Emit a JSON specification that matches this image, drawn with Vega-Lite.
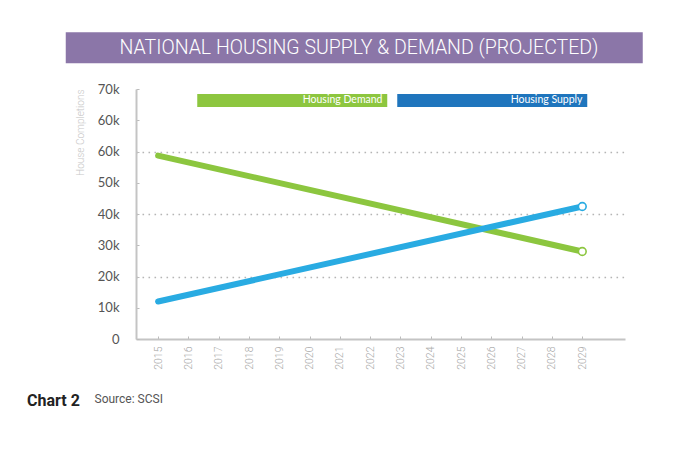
{
  "$schema": "https://vega.github.io/schema/vega-lite/v6.json",
  "background": "white",
  "padding": {"left": 27, "top": 38, "right": 5, "bottom": 5},
  "width": 489,
  "height": 250,
  "title": {
    "text": "Chart 2",
    "orient": "bottom",
    "anchor": "start",
    "frame": "group",
    "dx": -109,
    "dy": -11,
    "offset": 0,
    "font": "Roboto",
    "fontSize": 16,
    "fontWeight": "bold",
    "color": "#222222"
  },
  "layer": [
    {
      "data": {"values": [{"heading": "NATIONAL HOUSING SUPPLY & DEMAND (PROJECTED)"}]},
      "mark": {"type": "point", "filled": true, "opacity": 0, "color": "#8b76a8"},
      "encoding": {
        "shape": {
          "field": "heading",
          "type": "nominal",
          "scale": {"range": ["M0,-3.1H115.4V3.1H0Z"]},
          "legend": {
            "title": null,
            "orient": "none",
            "legendX": -80,
            "legendY": -51,
            "padding": 0,
            "symbolSize": 100,
            "symbolStrokeWidth": 0,
            "symbolFillColor": "#8b76a8",
            "symbolOpacity": 1,
            "labelFont": "Roboto",
            "labelFontWeight": 300,
            "labelFontSize": 19.5,
            "labelColor": "white",
            "labelAlign": "center",
            "labelOffset": 283.5,
            "labelLimit": 700,
            "encode": {
              "symbols": {
                "update": {
                  "fill": {"value": "#8b76a8"},
                  "opacity": {"value": 1},
                  "strokeWidth": {"value": 0}
                }
              }
            }
          }
        }
      }
    },
    {
      "data": {
        "values": [
          {"year": 2015, "houses": 58700, "series": "Housing Demand"},
          {"year": 2029, "houses": 28000, "series": "Housing Demand"},
          {"year": 2015, "houses": 12000, "series": "Housing Supply"},
          {"year": 2029, "houses": 42400, "series": "Housing Supply"}
        ]
      },
      "encoding": {
        "x": {
          "field": "year",
          "type": "quantitative",
          "scale": {"domain": [2014.27, 2030.41], "nice": false, "zero": false},
          "axis": {
            "title": "Source: SCSI",
            "titleFont": "Roboto",
            "titleFontSize": 12,
            "titleFontWeight": "normal",
            "titleColor": "#555555",
            "titleAnchor": "start",
            "titleAlign": "left",
            "titleBaseline": "middle",
            "titleX": -42,
            "titleY": 59,
            "values": [2015, 2016, 2017, 2018, 2019, 2020, 2021, 2022, 2023, 2024, 2025, 2026, 2027, 2028, 2029],
            "format": "d",
            "labelAngle": -90,
            "labelFont": "Roboto",
            "labelFontWeight": 300,
            "labelFontSize": 10.5,
            "labelColor": "#a8a8a8",
            "labelPadding": 10,
            "tickSize": -3,
            "tickColor": "#bbbbbb",
            "domainColor": "#c4c4c4",
            "domainWidth": 2,
            "grid": false
          }
        },
        "y": {
          "field": "houses",
          "type": "quantitative",
          "scale": {"domain": [0, 80000], "nice": false},
          "axis": {
            "title": "House Completions",
            "titleFont": "Roboto",
            "titleFontWeight": 300,
            "titleFontSize": 10,
            "titleColor": "#c8c8c8",
            "titleAnchor": "end",
            "titlePadding": 12,
            "values": [0, 10000, 20000, 30000, 40000, 50000, 60000, 70000, 80000],
            "labelExpr": "datum.value == 80000 ? '70k' : datum.value == 70000 ? '60k' : datum.value == 0 ? '0' : (datum.value / 1000) + 'k'",
            "labelFont": "Lato",
            "labelFontSize": 13,
            "labelColor": "#555555",
            "labelPadding": 20,
            "tickSize": -3,
            "tickColor": "#bbbbbb",
            "domainColor": "#c4c4c4",
            "domainWidth": 2,
            "grid": true,
            "gridColor": "#b5b5b5",
            "gridWidth": 1.6,
            "gridDash": [1.6, 4.4],
            "gridOpacity": {
              "condition": {"test": "datum.value == 20000 || datum.value == 40000 || datum.value == 60000", "value": 1},
              "value": 0
            }
          }
        }
      },
      "layer": [
        {
          "mark": {"type": "line", "strokeWidth": 6, "strokeCap": "round"},
          "encoding": {
            "color": {
              "field": "series",
              "type": "nominal",
              "scale": {"domain": ["Housing Demand", "Housing Supply"], "range": ["#8cc63f", "#29abe2"]},
              "legend": {
                "title": null,
                "orient": "none",
                "direction": "horizontal",
                "legendX": 56,
                "legendY": 6,
                "padding": 0,
                "columnPadding": 4,
                "symbolType": "M0,-1.3H38V1.3H0Z",
                "symbolSize": 100,
                "symbolStrokeWidth": 0,
                "symbolStrokeColor": "transparent",
                "labelFont": "Lato",
                "labelFontSize": 10.5,
                "labelColor": "white",
                "labelAlign": "right",
                "labelOffset": 180,
                "encode": {
                  "symbols": {
                    "update": {
                      "fill": [
                        {"test": "datum.value === 'Housing Supply'", "value": "#1f75bd"},
                        {"value": "#8dc63f"}
                      ],
                      "opacity": {"value": 1},
                      "strokeWidth": {"value": 0}
                    }
                  }
                }
              }
            }
          }
        },
        {
          "transform": [{"filter": "datum.year == 2029"}],
          "mark": {"type": "point", "filled": true, "fill": "white", "strokeWidth": 1.6, "size": 60, "opacity": 1},
          "encoding": {
            "stroke": {
              "field": "series",
              "type": "nominal",
              "scale": {"domain": ["Housing Demand", "Housing Supply"], "range": ["#8cc63f", "#29abe2"]},
              "legend": null
            }
          }
        }
      ]
    }
  ],
  "config": {"view": {"stroke": null}}
}
